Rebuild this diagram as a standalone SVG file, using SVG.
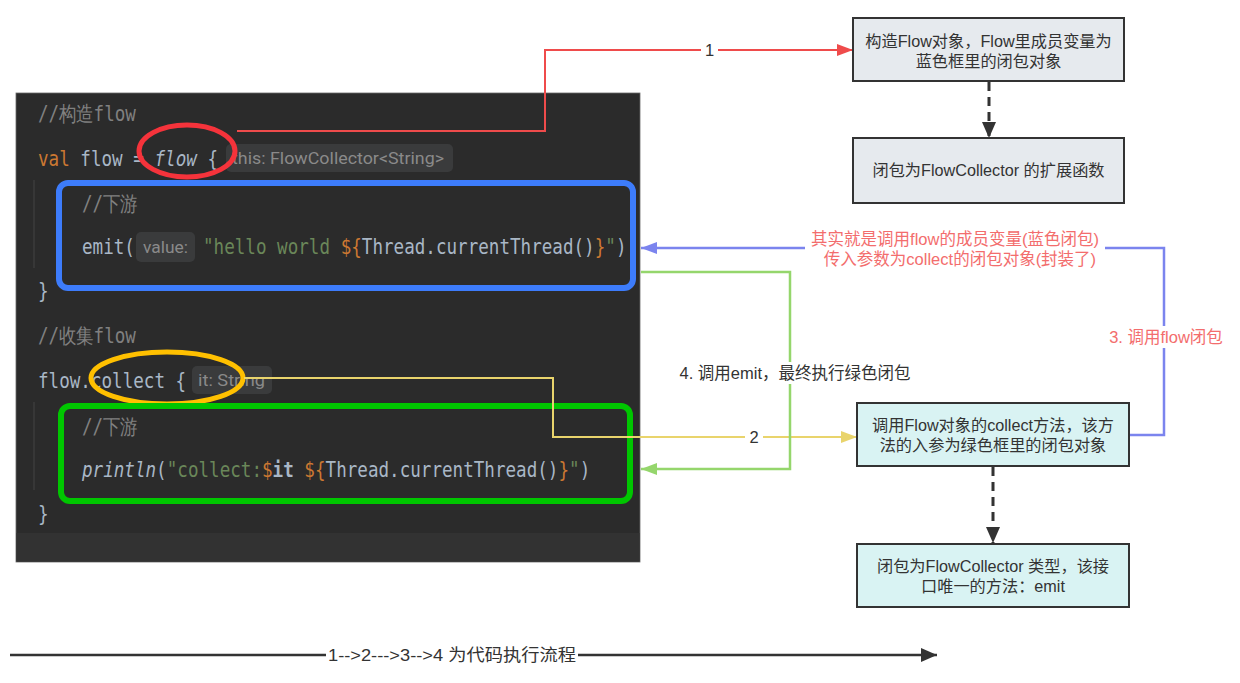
<svg xmlns="http://www.w3.org/2000/svg" width="1240" height="683" viewBox="0 0 1240 683">
<style>
.code{font-family:"DejaVu Sans Mono","Liberation Mono",monospace;font-size:17.6px;fill:#a9b7c6}
.cm{fill:#808080}
.kw{fill:#cc7832}
.str{fill:#6a8759}
.hint{font-family:Roboto,"Liberation Sans",sans-serif;font-size:16px;fill:#8a8a8a}
.hbox{fill:#3a3b3c}
.lbl{font-family:"Liberation Sans","Noto Sans CJK SC",sans-serif;font-size:16.5px;fill:#333}
.nt{font-family:"Liberation Sans","Noto Sans CJK SC",sans-serif;font-size:16.2px;fill:#333}
.pink{fill:#f36d6d}
.box{stroke:#333;stroke-width:2}
.white{fill:#fff}
</style>
<defs>
<marker id="aRed" markerUnits="userSpaceOnUse" markerWidth="16" markerHeight="12" refX="16" refY="6" orient="auto"><path d="M0,0 L16,6 L0,12 z" fill="#ef4b4b"/></marker>
<marker id="aYel" markerUnits="userSpaceOnUse" markerWidth="16" markerHeight="12" refX="16" refY="6" orient="auto"><path d="M0,0 L16,6 L0,12 z" fill="#e9d46c"/></marker>
<marker id="aBlue" markerUnits="userSpaceOnUse" markerWidth="16" markerHeight="12" refX="16" refY="6" orient="auto"><path d="M0,0 L16,6 L0,12 z" fill="#7b84ee"/></marker>
<marker id="aGreen" markerUnits="userSpaceOnUse" markerWidth="16" markerHeight="12" refX="16" refY="6" orient="auto"><path d="M0,0 L16,6 L0,12 z" fill="#95d66c"/></marker>
<marker id="aBlack" markerUnits="userSpaceOnUse" markerWidth="16" markerHeight="14" refX="16" refY="7" orient="auto"><path d="M0,0 L16,7 L0,14 z" fill="#333"/></marker>
</defs>

<g id="code-panel">
<rect x="16" y="93" width="624" height="469" fill="#2b2b2b" stroke="#6a6a6a" stroke-width="0.8"/>
<rect x="16.5" y="533" width="623" height="28.5" fill="#323232"/>
<line x1="34" y1="180" x2="34" y2="268" stroke="#3c3c3c" stroke-width="1.5"/>
<line x1="34" y1="402" x2="34" y2="490" stroke="#3c3c3c" stroke-width="1.5"/>

<text class="code cm" transform="translate(38,121) scale(1,1.2)">//构造flow</text>
<text class="code" transform="translate(38,166) scale(1,1.2)" xml:space="preserve"><tspan class="kw">val</tspan> flow = <tspan font-style="italic">flow</tspan> {</text>
<rect class="hbox" x="226" y="144" width="227" height="28" rx="5"/>
<text class="hint" x="232" y="164" textLength="212" lengthAdjust="spacingAndGlyphs">this: FlowCollector&lt;String&gt;</text>

<text class="code cm" transform="translate(82,211) scale(1,1.2)">//下游</text>
<text class="code" transform="translate(82,254) scale(1,1.2)">emit(</text>
<rect class="hbox" x="136" y="232" width="59" height="30" rx="5"/>
<text class="hint" x="143" y="253" textLength="45" lengthAdjust="spacingAndGlyphs">value:</text>
<text class="code" transform="translate(203,254) scale(1,1.2)" xml:space="preserve"><tspan class="str">"hello world </tspan><tspan class="kw">${</tspan>Thread.currentThread()<tspan class="kw">}</tspan><tspan class="str">"</tspan>)</text>
<text class="code" transform="translate(38,298) scale(1,1.2)">}</text>

<text class="code cm" transform="translate(38,343) scale(1,1.2)">//收集flow</text>
<text class="code" transform="translate(38,388) scale(1,1.2)" xml:space="preserve">flow.collect {</text>
<rect class="hbox" x="192" y="366" width="80" height="28" rx="5"/>
<text class="hint" x="198" y="386" textLength="67" lengthAdjust="spacingAndGlyphs">it: String</text>

<text class="code cm" transform="translate(82,434) scale(1,1.2)">//下游</text>
<text class="code" transform="translate(82,477) scale(1,1.2)" xml:space="preserve"><tspan font-style="italic">println</tspan>(<tspan class="str">"collect:</tspan><tspan class="kw">$</tspan><tspan font-weight="bold">it</tspan> <tspan class="kw">${</tspan>Thread.currentThread()<tspan class="kw">}</tspan><tspan class="str">"</tspan>)</text>
<text class="code" transform="translate(38,521) scale(1,1.2)">}</text>

<ellipse cx="187" cy="151" rx="48" ry="26" fill="none" stroke="#f5333b" stroke-width="5"/>
<rect x="59" y="183" width="574" height="105" rx="9" fill="none" stroke="#3d7cfb" stroke-width="6"/>
<ellipse cx="167" cy="378" rx="76" ry="26" fill="none" stroke="#ffc000" stroke-width="5"/>
<rect x="61" y="406" width="569" height="95" rx="9" fill="none" stroke="#00c600" stroke-width="6"/>
</g>

<g id="connectors" fill="none">
<path d="M237,131 H545 V50 H853" stroke="#ef4b4b" stroke-width="2" marker-end="url(#aRed)"/>
<path d="M244,378 H553 V437 H857" stroke="#e9d46c" stroke-width="2" marker-end="url(#aYel)"/>
<path d="M1129,435 H1164 V248 H641" stroke="#7b84ee" stroke-width="2.5" marker-end="url(#aBlue)"/>
<path d="M641,272 H790 V469 H641" stroke="#95d66c" stroke-width="2.5" marker-end="url(#aGreen)"/>
<path d="M989,82 V138" stroke="#333" stroke-width="3" stroke-dasharray="9,6" marker-end="url(#aBlack)"/>
<path d="M993,467 V543" stroke="#333" stroke-width="3" stroke-dasharray="9,6" marker-end="url(#aBlack)"/>
<path d="M10,655 H937" stroke="#333" stroke-width="2.5" marker-end="url(#aBlack)"/>

<rect class="white" x="701" y="40" width="17" height="20"/>
<text class="lbl" x="709.5" y="56" text-anchor="middle">1</text>
<rect class="white" x="745" y="427" width="18" height="20"/>
<text class="lbl" x="754" y="443" text-anchor="middle">2</text>
<rect class="white" x="805" y="229" width="300" height="42"/>
<text class="lbl pink" x="955" y="245" text-anchor="middle">其实就是调用flow的成员变量(蓝色闭包)</text>
<text class="lbl pink" x="960" y="265" text-anchor="middle">传入参数为collect的闭包对象(封装了)</text>
<rect class="white" x="1106" y="326" width="118" height="22"/>
<text class="lbl pink" x="1166" y="343" text-anchor="middle">3. 调用flow闭包</text>
<rect class="white" x="674" y="362" width="242" height="22"/>
<text class="lbl" x="795" y="379" text-anchor="middle">4. 调用emit，最终执行绿色闭包</text>
<rect class="white" x="326" y="645" width="252" height="20"/>
<text class="lbl" x="452" y="661" text-anchor="middle" textLength="248" lengthAdjust="spacingAndGlyphs">1--&gt;2---&gt;3--&gt;4 为代码执行流程</text>
</g>

<g id="node-construct">
<rect class="box" x="853" y="18" width="271" height="63" fill="#e6eaee"/>
<text class="nt" x="988.5" y="47" text-anchor="middle">构造Flow对象，Flow里成员变量为</text>
<text class="nt" x="988.5" y="67" text-anchor="middle">蓝色框里的闭包对象</text>
</g>
<g id="node-extension">
<rect class="box" x="853" y="138" width="271" height="65" fill="#e6eaee"/>
<text class="nt" x="988.5" y="176" text-anchor="middle">闭包为FlowCollector 的扩展函数</text>
</g>
<g id="node-collect">
<rect class="box" x="857" y="403" width="272" height="63" fill="#d9f3f3"/>
<text class="nt" x="993" y="431" text-anchor="middle">调用Flow对象的collect方法，该方</text>
<text class="nt" x="993" y="451" text-anchor="middle">法的入参为绿色框里的闭包对象</text>
</g>
<g id="node-collector">
<rect class="box" x="857" y="544" width="272" height="63" fill="#d9f3f3"/>
<text class="nt" x="993" y="572" text-anchor="middle">闭包为FlowCollector 类型，该接</text>
<text class="nt" x="993" y="592" text-anchor="middle">口唯一的方法：emit</text>
</g>
</svg>
